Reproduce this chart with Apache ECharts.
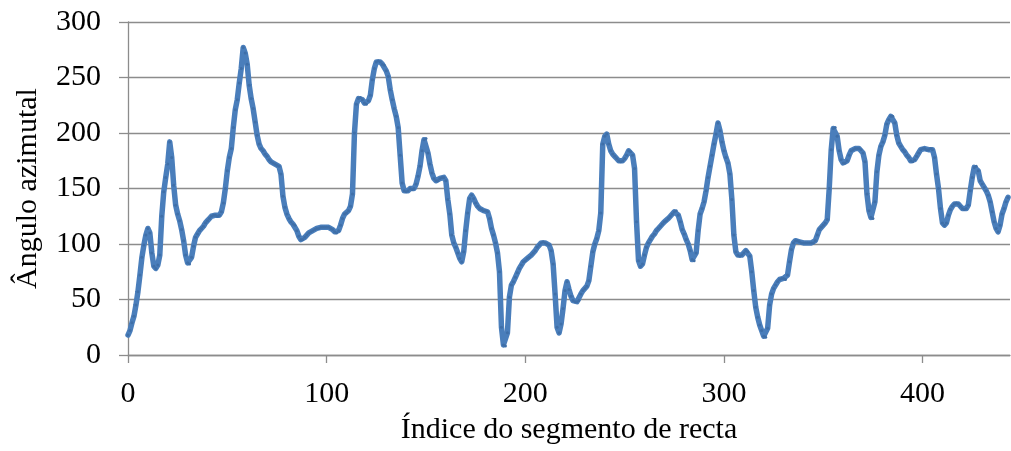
<!DOCTYPE html>
<html>
<head>
<meta charset="utf-8">
<script src="https://cdn.jsdelivr.net/npm/echarts@6/dist/echarts.min.js"></script>
<style>
  html, body { margin: 0; padding: 0; background: #ffffff; }
  #chart { width: 1011px; height: 451px; }
</style>
</head>
<body>
<div id="chart"></div>
<script>
// Azimuth angle of each straight-line segment, listed by segment index (0..443).
const azimuth0 = [18, 22, 29, 35, 45, 57, 72, 88, 99, 108,
  114, 110, 92, 80, 78, 81, 90, 125, 147, 160,
  172, 192, 178, 153, 135, 127, 121, 113, 103, 90,
  83, 82, 88, 98, 106, 109, 112, 114, 116, 119,
  121, 123, 125, 126, 126, 125, 126, 129, 137, 150,
  166, 178, 186, 205, 221, 230, 245, 258, 277, 272,
  262, 243, 231, 222, 210, 198, 190, 186, 184, 181,
  179, 176, 174, 173, 172, 171, 170, 163, 143, 133,
  127, 123, 120, 118, 117, 112, 107, 104, 104, 106,
  108, 110, 111, 112, 113, 114, 114, 115, 115, 115];
const azimuth1 = [115, 115, 114, 113, 111, 110, 112, 117, 123, 127,
  128, 130, 134, 145, 200, 226, 231, 232, 230, 227,
  226, 229, 234, 248, 258, 264, 265, 264, 262, 261,
  256, 251, 239, 230, 222, 215, 205, 180, 155, 148,
  147, 148, 150, 149, 150, 154, 161, 170, 184, 194,
  195, 182, 172, 164, 159, 157, 157, 159, 160, 160,
  157, 140, 127, 108, 101, 97, 92, 87, 84, 93,
  112, 128, 141, 144, 141, 137, 134, 132, 131, 130,
  130, 129, 123, 114, 108, 101, 92, 75, 25, 9,
  8, 20, 52, 63, 66, 70, 74, 78, 81, 84];
const azimuth2 = [85, 87, 88, 90, 92, 94, 97, 99, 101, 102,
  101, 100, 99, 94, 82, 55, 25, 20, 28, 42,
  58, 66, 59, 53, 49, 48, 48, 49, 55, 58,
  60, 62, 67, 80, 93, 100, 105, 112, 128, 190,
  197, 199, 190, 184, 181, 179, 177, 175, 174, 175,
  177, 180, 184, 183, 180, 168, 120, 85, 80, 82,
  90, 97, 101, 104, 107, 109, 112, 114, 116, 118,
  120, 121, 123, 125, 127, 129, 130, 126, 120, 113,
  109, 104, 100, 94, 86, 85, 92, 112, 127, 132,
  138, 148, 160, 170, 180, 190, 199, 209, 202, 192];
const azimuth3 = [184, 178, 173, 163, 140, 108, 93, 90, 89, 90,
  92, 94, 93, 89, 75, 58, 43, 34, 27, 22,
  17, 16, 24, 45, 55, 60, 63, 66, 68, 69,
  69, 68, 72, 84, 95, 101, 103, 103, 102, 101,
  101, 101, 101, 101, 101, 101, 103, 108, 113, 115,
  117, 119, 122, 150, 185, 204, 205, 197, 184, 176,
  173, 173, 175, 180, 184, 185, 186, 186, 186, 185,
  182, 174, 145, 130, 124, 123, 138, 165, 180, 188,
  192, 198, 208, 212, 215, 215, 209, 198, 191, 188,
  185, 183, 180, 178, 175, 174, 176, 179, 182, 185];
const azimuth4 = [186, 186, 185, 185, 186, 185, 178, 163, 150, 132,
  119, 117, 119, 126, 131, 134, 136, 137, 136, 134,
  132, 131, 132, 135, 148, 160, 169, 170, 166, 157,
  154, 151, 148, 144, 138, 129, 120, 114, 111, 117,
  127, 132, 138, 142];

const azimuth = [...azimuth0, ...azimuth1, ...azimuth2, ...azimuth3, ...azimuth4];

// Axis settings and tick labels
const xTicks = [0, 100, 200, 300, 400];
const xMax = 444;
const yTicks = [0, 50, 100, 150, 200, 250, 300];

const xTitle = 'Índice do segmento de recta';
const yTitle = 'Ângulo azimutal';

const points = azimuth.map((v, i) => [i, v]);

const gray = '#8c8c8c';
const font = '"Liberation Serif", "Times New Roman", serif';

const chart = echarts.init(document.getElementById('chart'), null, { renderer: 'canvas' });
chart.setOption({
  animation: false,
  backgroundColor: '#ffffff',
  grid: { left: 128, right: 1, top: 22, bottom: 96, containLabel: false, outerBoundsMode: 'none' },
  xAxis: {
    type: 'value',
    min: 0,
    max: xMax,
    interval: 100,
    name: xTitle,
    nameLocation: 'middle',
    nameGap: 60,
    nameTextStyle: { fontFamily: font, fontSize: 30, color: '#000' },
    axisLine: { show: true, lineStyle: { color: gray, width: 1.3 } },
    axisTick: { show: true, length: 8, inside: false, customValues: xTicks, lineStyle: { color: gray, width: 1.3 } },
    axisLabel: { customValues: xTicks, margin: 24, fontFamily: font, fontSize: 30, color: '#000' },
    splitLine: { show: false }
  },
  yAxis: {
    type: 'value',
    min: 0,
    max: 300,
    interval: 50,
    name: yTitle,
    nameLocation: 'middle',
    nameGap: 85,
    nameTextStyle: { fontFamily: font, fontSize: 30, color: '#000' },
    axisLine: { show: true, lineStyle: { color: gray, width: 1.3 } },
    axisTick: { show: true, length: 9, inside: false, lineStyle: { color: gray, width: 1.3 } },
    axisLabel: { margin: 27, fontFamily: font, fontSize: 30, color: '#000',
      customValues: yTicks },
    splitLine: { show: true, lineStyle: { color: gray, width: 1.3 } }
  },
  series: [{
    type: 'line',
    data: points,
    smooth: false,
    symbol: 'circle',
    symbolSize: 3,
    showSymbol: true,
    showAllSymbol: true,
    itemStyle: { color: '#3f6fa8' },
    lineStyle: { color: '#4a7ebb', width: 5.5, join: 'round', cap: 'round' },
    z: 3
  }]
});
</script>
</body>
</html>
